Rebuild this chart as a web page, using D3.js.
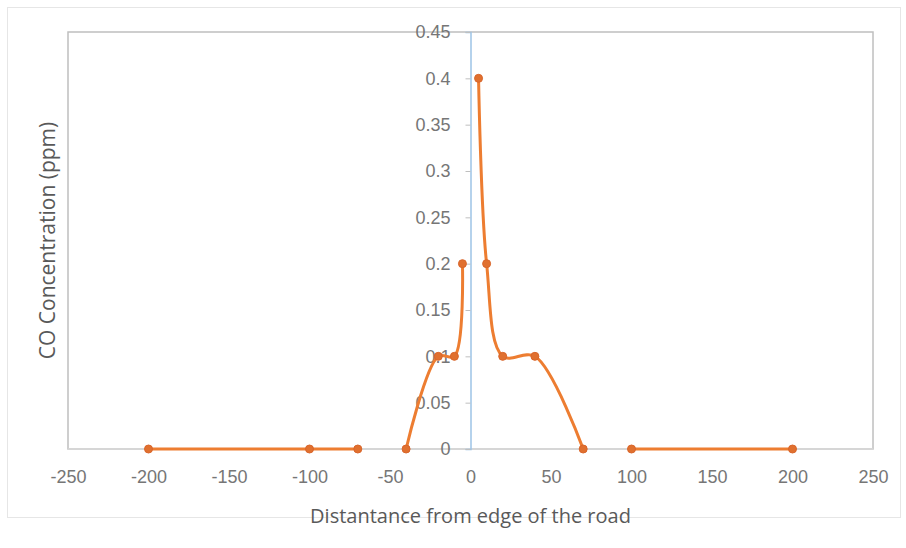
<!DOCTYPE html>
<html>
<head>
<meta charset="utf-8">
<script src="https://cdn.jsdelivr.net/npm/d3@7"></script>
<style>
  html, body { margin: 0; padding: 0; background: #ffffff; }
  svg { display: block; font-family: "Open Sans", "Noto Sans", sans-serif; }
</style>
</head>
<body>
<svg id="chart" width="906" height="548"></svg>
<script>
// Data: distance from edge of road (m) and CO concentration (ppm); null = gap in line
const distances = [-200, -100, -70, null, -40, -20, -10, -5, null, 5, 10, 20, 40, 70, null, 100, 200];
const coValues  = [0,    0,    0,   null, 0,   0.1, 0.1, 0.2, null, 0.4, 0.2, 0.1, 0.1, 0,  null, 0,   0];
const xTicks = [-250, -200, -150, -100, -50, 0, 50, 100, 150, 200, 250];
const yTicks = [0, 0.05, 0.1, 0.15, 0.2, 0.25, 0.3, 0.35, 0.4, 0.45];
const xTitle = "Distantance from edge of the road";
const yTitle = "CO Concentration (ppm)";

const svg = d3.select("#chart");

// outer chart border
svg.append("rect").attr("x", 7.5).attr("y", 7.5).attr("width", 893).attr("height", 510)
  .attr("fill", "#ffffff").attr("stroke", "#e6e6e6").attr("stroke-width", 1);

const x = d3.scaleLinear().domain([-250, 250]).range([68, 873]);
const y = d3.scaleLinear().domain([0, 0.45]).range([449, 32]);

// plot area border
svg.append("rect")
  .attr("x", x(-250)).attr("y", y(0.45))
  .attr("width", x(250) - x(-250)).attr("height", y(0) - y(0.45))
  .attr("fill", "none").attr("stroke", "#bfbfbf").attr("stroke-width", 1.5);

// x axis line at y=0
svg.append("line").attr("x1", x(-250)).attr("x2", x(250)).attr("y1", y(0)).attr("y2", y(0))
  .attr("stroke", "#d9d9d9").attr("stroke-width", 1.5);

// y axis at x=0
const yAxis = d3.axisLeft(y).tickValues(yTicks).tickSize(5).tickPadding(15)
  .tickFormat(d => d === 0 ? "0" : String(+d.toFixed(2)));
const gy = svg.append("g").attr("transform", `translate(${x(0)},0)`).call(yAxis);
gy.select(".domain").attr("stroke", "#9dc3e6").attr("stroke-width", 1.5);
gy.selectAll(".tick line").attr("stroke", "#bfbfbf");
gy.selectAll(".tick text").attr("fill", "#767676").style("font-size", "18px")
  .style("font-stretch", "condensed");

// x tick labels below plot
const xAxis = d3.axisBottom(x).tickValues(xTicks).tickSize(0).tickPadding(21)
  .tickFormat(d => d3.format("d")(d).replace("−", "-"));
const gx = svg.append("g").attr("transform", `translate(0,${y(0)})`).call(xAxis);
gx.select(".domain").remove();
gx.selectAll(".tick text").attr("fill", "#767676").style("font-size", "18px")
  .style("font-stretch", "condensed");

// data
const pts = distances.map((d, i) => ({ x: d, y: coValues[i] }));
const line = d3.line()
  .defined(d => d.x !== null && d.y !== null)
  .x(d => x(d.x)).y(d => y(d.y))
  .curve(d3.curveCatmullRom.alpha(0.5));

svg.append("path").datum(pts)
  .attr("fill", "none").attr("stroke", "#ed7d31").attr("stroke-width", 3)
  .attr("stroke-linejoin", "round").attr("d", line);

svg.append("g").selectAll("circle")
  .data(pts.filter(d => d.x !== null && d.y !== null))
  .join("circle")
  .attr("cx", d => x(d.x)).attr("cy", d => y(d.y)).attr("r", 4)
  .attr("fill", "#e0702f").attr("stroke", "#d9652a").attr("stroke-width", 1);

// titles
svg.append("text").attr("x", x(0)).attr("y", 523).attr("text-anchor", "middle")
  .attr("fill", "#595959").style("font-size", "20px").text(xTitle);
svg.append("text").attr("transform", `translate(55,${(y(0) + y(0.45)) / 2}) rotate(-90)`)
  .attr("text-anchor", "middle").attr("fill", "#595959").style("font-size", "21px").text(yTitle);
</script>
</body>
</html>
